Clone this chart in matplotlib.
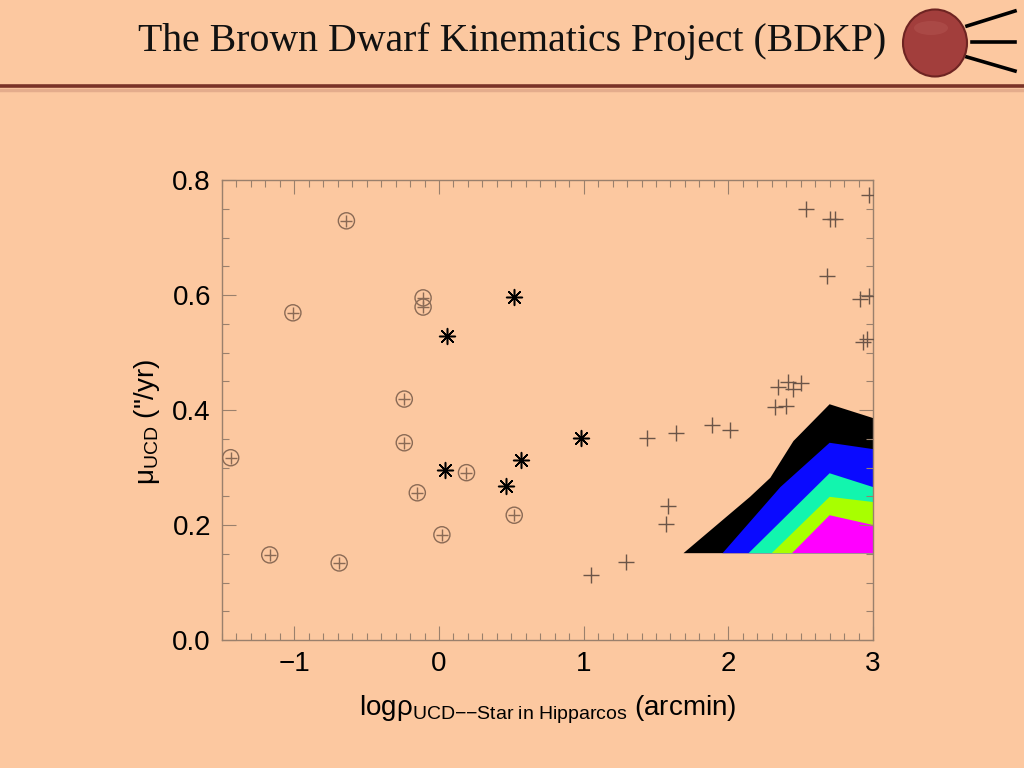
import matplotlib
matplotlib.use("Agg")
import matplotlib.pyplot as plt
from matplotlib.patches import Ellipse
from matplotlib.ticker import MultipleLocator

# UCDs with a resolved companion (circled plus)
circ_x = [-1.44, -1.17, -1.01, -0.69, -0.64, -0.24, -0.24, -0.15, -0.11, -0.11, 0.02, 0.19, 0.52]
circ_y = [0.317, 0.148, 0.569, 0.134, 0.729, 0.419, 0.343, 0.256, 0.595, 0.579, 0.183, 0.291, 0.217]

# asterisks
star_x = [0.055, 0.517, 0.04, 0.46, 0.57, 0.98]
star_y = [0.529, 0.597, 0.296, 0.268, 0.313, 0.351]

# plus signs
plus_x = [1.05, 1.29, 1.44, 1.57, 1.58, 1.64, 1.89, 2.01, 2.32, 2.40, 2.34, 2.41,
          2.45, 2.50, 2.54, 2.68, 2.70, 2.74, 2.91, 2.97, 2.93, 2.96, 2.97]
plus_y = [0.113, 0.136, 0.351, 0.202, 0.233, 0.360, 0.374, 0.365, 0.405, 0.407, 0.440, 0.449,
          0.436, 0.447, 0.750, 0.633, 0.732, 0.732, 0.593, 0.598, 0.518, 0.523, 0.774]

# chance-alignment probability regions (upper edges), all sitting on the same floor
floor_y = 0.151
black_x = [1.69, 2.15, 2.29, 2.45, 2.70, 3.0]
black_y = [0.151, 0.249, 0.282, 0.346, 0.410, 0.386]
blue_x = [1.96, 2.36, 2.70, 3.0]
blue_y = [0.151, 0.266, 0.343, 0.332]
cyan_x = [2.14, 2.70, 3.0]
cyan_y = [0.151, 0.290, 0.266]
green_x = [2.30, 2.70, 3.0]
green_y = [0.151, 0.249, 0.240]
mag_x = [2.44, 2.70, 3.0]
mag_y = [0.151, 0.217, 0.200]

bg = "#FCC8A0"
framec = "#9A806C"
markc = "#8A6A55"

plt.rcParams["mathtext.fontset"] = "custom"
plt.rcParams["mathtext.rm"] = "Liberation Sans"
plt.rcParams["mathtext.it"] = "Liberation Sans"

fig = plt.figure(figsize=(10.24, 7.68), dpi=100)
fig.patch.set_facecolor(bg)

# header
fig.text(0.5, 0.946, "The Brown Dwarf Kinematics Project (BDKP)", ha="center", va="center",
         fontsize=28.6, family="Liberation Serif", color="#111111")
fig.add_artist(plt.Line2D([0, 1], [0.8875, 0.8875], color="#7A3328", lw=2.6))
fig.add_artist(plt.Line2D([0, 1], [0.883, 0.883], color="#D49A80", lw=2.5, alpha=0.6))
fig.add_artist(Ellipse((935 / 1024, 1 - 43 / 768), 64 / 1024, 67 / 768,
                       facecolor="#A23E3C", edgecolor="#6E2422", lw=1.5))
fig.add_artist(Ellipse((931 / 1024, 1 - 28 / 768), 34 / 1024, 14 / 768,
                       facecolor="#B85A56", edgecolor="none", alpha=0.4))
for y0, y1, x0 in [(26, 11, 967), (42, 42, 972), (57, 71, 967)]:
    fig.add_artist(plt.Line2D([x0 / 1024, 1015 / 1024], [1 - y0 / 768, 1 - y1 / 768],
                              color="black", lw=2.6))

ax = fig.add_axes([222 / 1024, 128 / 768, 651 / 1024, 460 / 768])
ax.set_facecolor(bg)

for xs, ys, c in [(black_x, black_y, "black"), (blue_x, blue_y, "#0A0AFF"),
                  (cyan_x, cyan_y, "#12F5AE"), (green_x, green_y, "#A8FF00"),
                  (mag_x, mag_y, "#FF00FF")]:
    ax.fill(xs + [xs[-1], xs[0]], ys + [floor_y, floor_y], color=c, lw=0)

ax.scatter(circ_x, circ_y, s=135, facecolors="none", edgecolors=markc, linewidths=1.0, zorder=3)
ax.scatter(circ_x, circ_y, s=75, marker="+", color=markc, linewidths=1.0, zorder=3)
ax.scatter(star_x, star_y, s=130, marker=(8, 2, 0), color="black", linewidths=1.1, zorder=3)
ax.scatter(plus_x, plus_y, s=120, marker="+", color="#6B5548", linewidths=1.0, zorder=3)

ax.set_xlim(-1.5, 3)
ax.set_ylim(0, 0.8)
ax.xaxis.set_minor_locator(MultipleLocator(0.1))
ax.yaxis.set_major_locator(MultipleLocator(0.2))
ax.yaxis.set_minor_locator(MultipleLocator(0.05))
ax.yaxis.set_major_formatter(matplotlib.ticker.FormatStrFormatter("%.1f"))
ax.tick_params(which="both", direction="in", top=True, right=True, color=framec,
               labelsize=20, labelcolor="black", pad=8, width=0.8)
ax.tick_params(which="major", length=10)
ax.tick_params(which="minor", length=5)
ax.set_xticks([-1, 0, 1, 2, 3])
ax.set_xticklabels(["\u22121", "0", "1", "2", "3"], family="Liberation Sans")
for lab in ax.get_yticklabels():
    lab.set_family("Liberation Sans")
for sp in ax.spines.values():
    sp.set_color(framec)
    sp.set_linewidth(1.0)

ax.set_xlabel("log\u03c1$_{\\mathrm{UCD{-}{-}Star\\ in\\ Hipparcos}}$ (arcmin)",
              fontsize=20, family="Liberation Sans", labelpad=12)
ax.set_ylabel("\u03bc$_{\\mathrm{UCD}}$ (\"/yr)", fontsize=20, family="Liberation Sans")
ax.yaxis.set_label_coords(-0.092, 0.474)

fig.savefig("out.png", dpi=100, facecolor=bg)
